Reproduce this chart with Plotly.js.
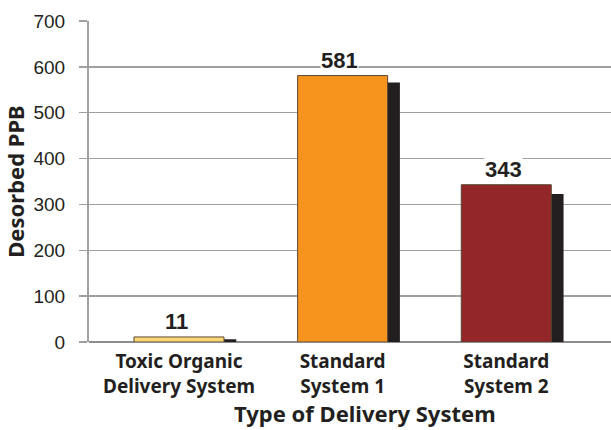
<!DOCTYPE html>
<html>
<head>
<meta charset="utf-8">
<script src="https://cdn.plot.ly/plotly-3.0.1.min.js"></script>
<style>html,body{margin:0;padding:0;background:#fff;}#chart{width:611px;height:430px;}</style>
</head>
<body>
<div id="chart"></div>
<script>
var categories = ["Toxic Organic<br>Delivery System", "Standard<br>System 1", "Standard<br>System 2"];
var values = [11, 581, 343];
var shadowValues = [6, 566, 323];
var barColors = ["#fbd774", "#f7941e", "#932628"];
var yTicks = [0, 100, 200, 300, 400, 500, 600, 700];
var xTitle = "Type of Delivery System";
var yTitle = "Desorbed PPB";

var lblFont = "Noto Sans, Open Sans, sans-serif";
var numFont = "Liberation Sans, Arial, sans-serif";

var shadow = {
  type: "bar", x: categories, y: shadowValues,
  width: 0.55, offset: -0.2,
  marker: {color: "#231f20", line: {width: 0}},
  hoverinfo: "skip", showlegend: false
};
var main = {
  type: "bar", x: categories, y: values,
  width: 0.55, offset: -0.275,
  marker: {color: barColors, line: {color: "#5a4632", width: 1}},
  showlegend: false
};

var annotations = categories.map(function(c, i) {
  return {
    x: c, y: values[i], xref: "x", yref: "y",
    text: "<b>" + values[i] + "</b>", showarrow: false,
    yanchor: "bottom", yshift: 2, xshift: -3,
    bgcolor: "#ffffff", borderpad: 0,
    font: {family: numFont, size: 22, color: "#231f20"}
  };
});
annotations.push({
  xref: "paper", yref: "paper", x: 0.529, y: 0, yshift: -71,
  xanchor: "center", yanchor: "middle", showarrow: false,
  text: "<b>" + xTitle + "</b>",
  font: {family: lblFont, size: 22, color: "#231f20"}
});

var layout = {
  width: 611, height: 430,
  margin: {l: 89, r: 0, t: 21, b: 88},
  paper_bgcolor: "#ffffff", plot_bgcolor: "#ffffff",
  barmode: "overlay",
  xaxis: {
    type: "category",
    range: [-0.55, 2.64],
    showgrid: false, zeroline: false,
    showline: false, ticks: "",
    ticklabelstandoff: 6,
    tickfont: {family: lblFont, size: 19, color: "#231f20", weight: "bold"}
  },
  yaxis: {
    range: [0, 700],
    tickvals: yTicks,
    ticktext: yTicks.map(String),
    showgrid: true, gridcolor: "#a0a0a0", gridwidth: 1.5,
    zeroline: true, zerolinecolor: "#8c8c8c", zerolinewidth: 2,
    showline: true, linecolor: "#a0a0a0", linewidth: 2,
    ticks: "outside", ticklen: 8, tickcolor: "#a0a0a0", tickwidth: 1.5,
    ticklabelstandoff: 10,
    tickfont: {family: numFont, size: 19, color: "#231f20"},
    title: {text: "<b>" + yTitle + "</b>", standoff: 6,
            font: {family: lblFont, size: 22, color: "#231f20"}}
  },
  annotations: annotations
};

Plotly.newPlot("chart", [shadow, main], layout, {displayModeBar: false, staticPlot: true});
</script>
</body>
</html>
